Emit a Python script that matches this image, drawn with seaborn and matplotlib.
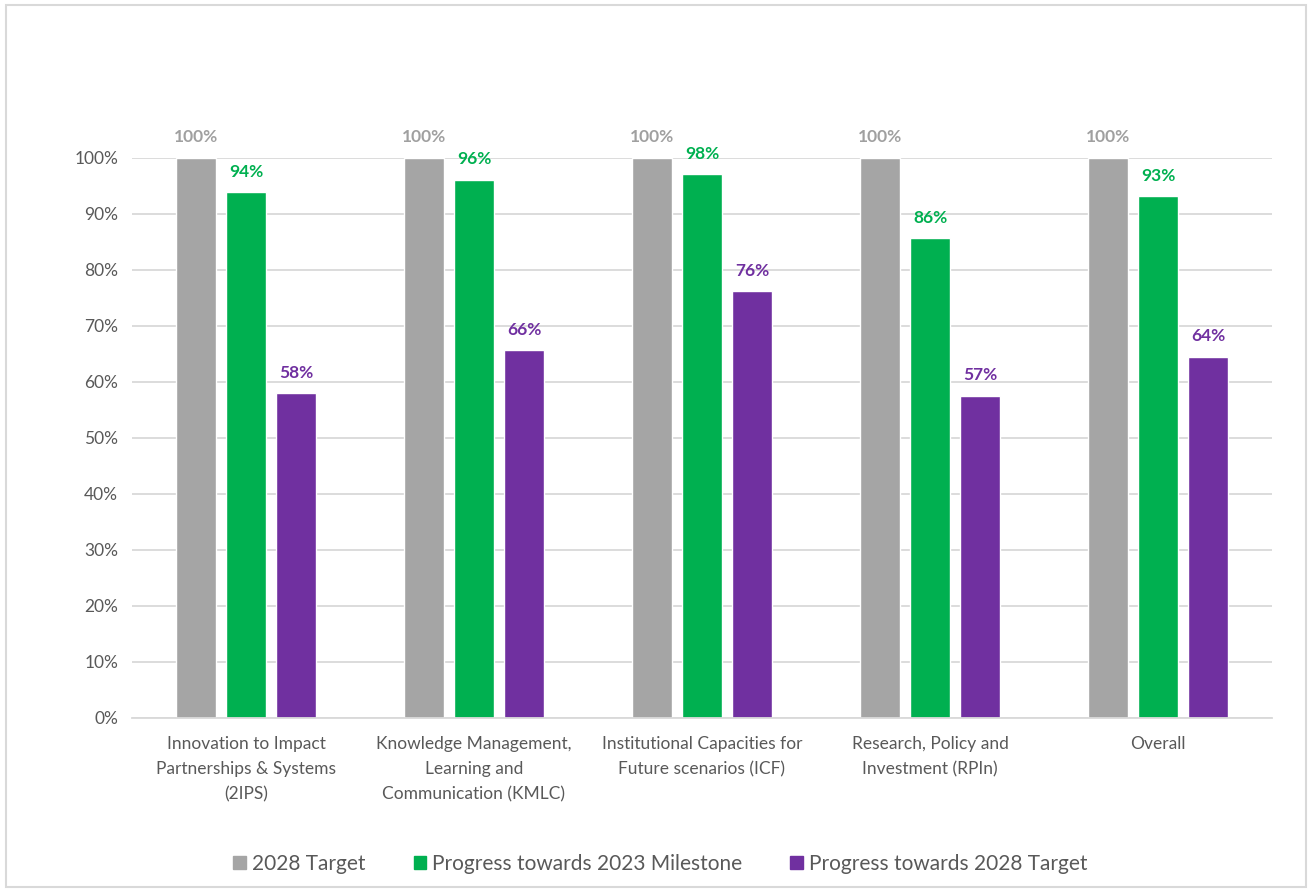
import matplotlib
matplotlib.use("Agg")
import matplotlib.pyplot as plt
import matplotlib.patches as mpatches
import seaborn as sns
import pandas as pd

categories = [
    "Innovation to Impact\nPartnerships & Systems\n(2IPS)",
    "Knowledge Management,\nLearning and\nCommunication (KMLC)",
    "Institutional Capacities for\nFuture scenarios (ICF)",
    "Research, Policy and\nInvestment (RPIn)",
    "Overall",
]
series_names = ["2028 Target", "Progress towards 2023 Milestone", "Progress towards 2028 Target"]
target_2028 = [1.00, 1.00, 1.00, 1.00, 1.00]
progress_2023 = [0.939, 0.961, 0.971, 0.857, 0.932]
progress_2028 = [0.580, 0.657, 0.762, 0.575, 0.645]
label_target = ["100%", "100%", "100%", "100%", "100%"]
label_2023 = ["94%", "96%", "98%", "86%", "93%"]
label_2028 = ["58%", "66%", "76%", "57%", "64%"]
yticks = [0, 0.1, 0.2, 0.3, 0.4, 0.5, 0.6, 0.7, 0.8, 0.9, 1.0]
ytick_labels = ["0%", "10%", "20%", "30%", "40%", "50%", "60%", "70%", "80%", "90%", "100%"]

colors = ["#A5A5A5", "#00B050", "#7030A0"]
label_colors = ["#A0A0A0", "#00B050", "#7030A0"]

df = pd.DataFrame({
    "category": categories * 3,
    "series": [series_names[0]] * 5 + [series_names[1]] * 5 + [series_names[2]] * 5,
    "value": target_2028 + progress_2023 + progress_2028,
})

sns.set_theme(style="white")
plt.rcParams["font.family"] = ["Lato", "DejaVu Sans"]

fig = plt.figure(figsize=(13.08, 8.91), dpi=100)
ax = fig.add_axes([132 / 1308, 1 - 718 / 891, (1272 - 132) / 1308, (718 - 158) / 891])

sns.barplot(data=df, x="category", y="value", hue="series", hue_order=series_names,
            palette=colors, width=0.66, gap=0.2, ax=ax, legend=False, saturation=1)

ax.set_ylim(0, 1.0)
ax.set_xlim(-0.5, 4.5)
ax.set_yticks(yticks)
ax.set_yticklabels(ytick_labels)
ax.set_xlabel("")
ax.set_ylabel("")
ax.yaxis.grid(True, color="#D9D9D9", linewidth=1.3)
ax.set_axisbelow(True)
for s in ["top", "right", "left"]:
    ax.spines[s].set_visible(False)
ax.spines["bottom"].set_color("#D9D9D9")
ax.spines["bottom"].set_linewidth(1.3)
ax.tick_params(axis="both", length=0, colors="#595959", labelsize=12.5)
ax.tick_params(axis="y", pad=10)
ax.tick_params(axis="x", pad=13)
for t in ax.get_xticklabels():
    t.set_linespacing(1.7)

all_labels = [label_target, label_2023, label_2028]
for cont, labs, lc in zip(ax.containers, all_labels, label_colors):
    txts = ax.bar_label(cont, labels=labs, padding=9, color=lc, fontsize=12.5, fontweight="bold")
    for t in txts:
        t.set_clip_on(False)

handles = [mpatches.Patch(color=c, label=n) for c, n in zip(colors, series_names)]
fig.legend(handles=handles, loc="center", bbox_to_anchor=(0.505, 1 - 864 / 891), ncol=3,
           frameon=False, fontsize=15, handlelength=0.6, handleheight=0.6,
           handletextpad=0.3, columnspacing=2.3, labelcolor="#595959")

border = mpatches.Rectangle((6 / 1308, 4 / 891), 1300 / 1308, 882 / 891,
                            transform=fig.transFigure, fill=False,
                            edgecolor="#D9D9D9", linewidth=1.5)
fig.patches.append(border)

fig.savefig("out.png", dpi=100)
